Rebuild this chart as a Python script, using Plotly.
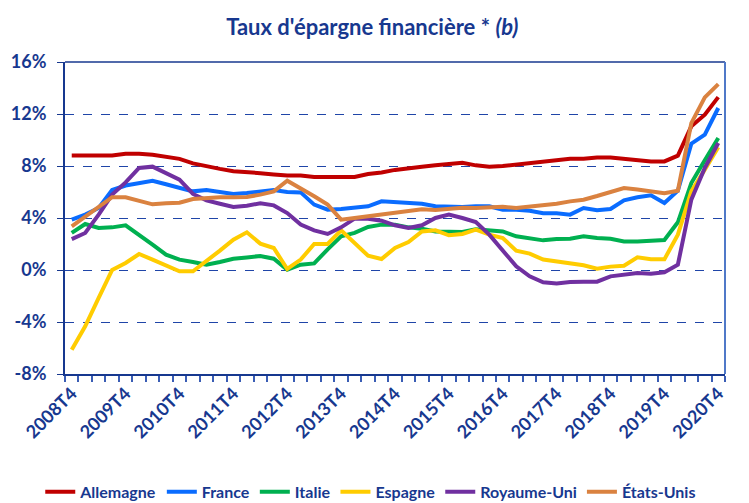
import plotly.graph_objects as go

quarters = ["2008T4"] + [f"{y}T{q}" for y in range(2009, 2021) for q in (1, 2, 3, 4)]
tick_labels = [q if q.endswith("T4") else "" for q in quarters]

allemagne = [8.8, 8.8, 8.8, 8.8, 8.95, 8.95, 8.87, 8.7, 8.55, 8.2, 7.97, 7.78,
             7.6, 7.55, 7.45, 7.35, 7.27, 7.27, 7.15, 7.15, 7.15, 7.15, 7.38, 7.5,
             7.7, 7.85, 7.95, 8.05, 8.15, 8.25, 8.05, 7.95, 8.0, 8.1, 8.18, 8.3,
             8.45, 8.55, 8.55, 8.65, 8.65, 8.55, 8.45, 8.35, 8.35, 8.8, 11.05, 11.95, 13.3]
france = [3.87, 4.26, 4.77, 6.15, 6.5, 6.7, 6.87, 6.6, 6.3, 6.05, 6.15, 5.97,
          5.85, 5.92, 6.05, 6.15, 6.0, 5.97, 5.03, 4.64, 4.69, 4.77, 4.9, 5.28,
          5.22, 5.2, 5.1, 4.9, 4.87, 4.85, 4.9, 4.9, 4.64, 4.64, 4.56, 4.36,
          4.36, 4.26, 4.77, 4.59, 4.69, 5.36, 5.59, 5.74, 5.15, 6.1, 9.72, 10.41, 12.46]
italie = [2.85, 3.54, 3.23, 3.28, 3.44, 2.72, 1.95, 1.18, 0.8, 0.62, 0.41, 0.62,
          0.87, 0.97, 1.08, 0.87, 0.03, 0.41, 0.51, 1.59, 2.59, 2.85, 3.31, 3.49,
          3.49, 3.28, 3.18, 2.97, 2.97, 2.92, 3.13, 3.08, 2.97, 2.59, 2.41, 2.28,
          2.38, 2.41, 2.59, 2.46, 2.41, 2.2, 2.2, 2.28, 2.31, 3.67, 6.69, 8.44, 10.15]
espagne = [-6.13, -4.33, -2.15, 0.0, 0.54, 1.23, 0.8, 0.36, -0.1, -0.1, 0.67, 1.49,
           2.33, 2.9, 2.03, 1.69, 0.08, 0.8, 2.0, 2.0, 3.05, 2.08, 1.1, 0.85,
           1.69, 2.15, 2.97, 3.05, 2.67, 2.77, 3.1, 2.72, 2.46, 1.49, 1.26, 0.8,
           0.67, 0.54, 0.36, 0.1, 0.26, 0.33, 0.97, 0.82, 0.82, 2.72, 6.05, 7.72, 9.44]
royaume_uni = [2.38, 2.85, 4.26, 5.8, 6.74, 7.85, 7.95, 7.46, 6.95, 5.85, 5.36, 5.1,
               4.85, 4.95, 5.13, 4.97, 4.38, 3.49, 3.05, 2.77, 3.28, 3.95, 3.95, 3.79,
               3.44, 3.23, 3.44, 4.0, 4.26, 4.0, 3.69, 2.72, 1.44, 0.28, -0.49, -0.95,
               -1.03, -0.92, -0.9, -0.9, -0.49, -0.36, -0.23, -0.28, -0.18, 0.41, 5.41, 7.85, 9.77]
etats_unis = [3.36, 4.13, 4.85, 5.6, 5.6, 5.36, 5.05, 5.13, 5.18, 5.46, 5.54, 5.6,
              5.6, 5.62, 5.8, 6.05, 6.87, 6.3, 5.67, 5.03, 3.87, 4.0, 4.13, 4.26,
              4.46, 4.56, 4.67, 4.62, 4.69, 4.79, 4.77, 4.79, 4.87, 4.77, 4.87, 5.0,
              5.1, 5.28, 5.41, 5.69, 6.0, 6.31, 6.2, 6.08, 5.9, 6.1, 11.3, 13.28, 14.3]

series = [
    ("Allemagne", allemagne, "#C00000"),
    ("France", france, "#0A6CFF"),
    ("Italie", italie, "#00B050"),
    ("Espagne", espagne, "#FFCC00"),
    ("Royaume-Uni", royaume_uni, "#7030A0"),
    ("États-Unis", etats_unis, "#DA8240"),
]

y_ticks = [-8, -4, 0, 4, 8, 12, 16]
y_labels = [f"{v}%" for v in y_ticks]

DARK = "#17388F"
FONT = "Lato"

fig = go.Figure()
for name, vals, col in series:
    fig.add_trace(go.Scatter(x=quarters, y=vals, mode="lines", name=name,
                             line=dict(color=col, width=4)))

fig.update_layout(
    width=749, height=503,
    margin=dict(l=65, r=24, t=62, b=129, autoexpand=False),
    paper_bgcolor="white", plot_bgcolor="white",
    title=dict(text="Taux d'épargne financière * <i>(b)</i>", x=0.497, xanchor="center",
               y=0.945, yanchor="middle",
               font=dict(family=FONT, size=22, color=DARK, weight="bold")),
    font=dict(family=FONT, color=DARK),
    showlegend=True,
    legend=dict(orientation="h", x=0.495, xanchor="center", xref="container",
                y=0.022, yanchor="middle", yref="container",
                font=dict(family=FONT, size=16, color=DARK, weight="bold"),
                itemwidth=30, tracegroupgap=0, borderwidth=0),
    xaxis=dict(type="category", range=[-0.5, 48.5], tickmode="array",
               tickvals=quarters, ticktext=tick_labels, tickangle=-45,
               tickson="boundaries", ticks="outside", ticklen=6, tickcolor="#3A5DB5",
               tickwidth=1.5, automargin=False,
               showline=True, linecolor=DARK, linewidth=2, showgrid=False,
               tickfont=dict(family=FONT, size=18, color=DARK, weight="bold")),
    yaxis=dict(range=[-8, 16], tickmode="array", tickvals=y_ticks, ticktext=y_labels,
               ticks="outside", ticklen=6, tickcolor=DARK, ticklabelstandoff=7,
               showline=True, linecolor=DARK, linewidth=2, automargin=False,
               showgrid=True, gridcolor="#1F45A8", gridwidth=1.2, griddash="dash",
               zeroline=False,
               tickfont=dict(family=FONT, size=18, color=DARK, weight="bold")),
)

fig.add_shape(type="line", xref="paper", yref="paper", x0=0, x1=1, y0=1, y1=1,
              line=dict(color=DARK, width=1.5))
fig.add_shape(type="line", xref="paper", yref="paper", x0=1, x1=1, y0=0, y1=1,
              line=dict(color="#5079C8", width=2))

fig.write_html("out.html")
